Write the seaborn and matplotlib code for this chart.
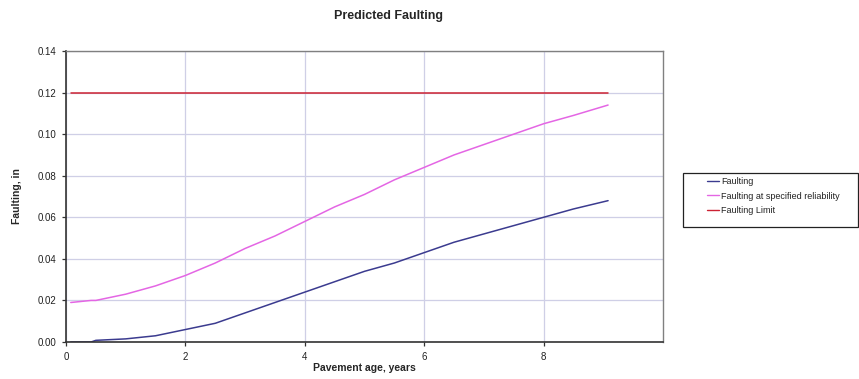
import matplotlib
matplotlib.use("Agg")
import matplotlib.pyplot as plt
from matplotlib.patches import Rectangle
import seaborn as sns
import pandas as pd

# Data
age_years = [0.08, 0.42, 0.5, 1.0, 1.5, 2.0, 2.5, 3.0, 3.5, 4.0, 4.5, 5.0,
             5.5, 6.0, 6.5, 7.0, 7.5, 8.0, 8.5, 9.08]
faulting = [0.000, 0.000, 0.0008, 0.0015, 0.003, 0.006, 0.009, 0.014, 0.019,
            0.024, 0.029, 0.034, 0.038, 0.043, 0.048, 0.052, 0.056, 0.060,
            0.064, 0.068]
faulting_reliability = [0.019, 0.020, 0.020, 0.023, 0.027, 0.032, 0.038,
                        0.045, 0.051, 0.058, 0.065, 0.071, 0.078, 0.084,
                        0.090, 0.095, 0.100, 0.105, 0.109, 0.114]
faulting_limit = [0.12] * len(age_years)

series_names = ["Faulting", "Faulting at specified reliability", "Faulting Limit"]
series_colors = ["#3b3b8f", "#e466e4", "#cc2233"]

rows = []
for name, vals in zip(series_names, [faulting, faulting_reliability, faulting_limit]):
    for x, y in zip(age_years, vals):
        rows.append({"age": x, "value": y, "series": name})
df = pd.DataFrame(rows)

sns.set_theme(style="white")
plt.rcParams["font.family"] = ["Liberation Sans", "DejaVu Sans"]

W, H = 859, 379
fig = plt.figure(figsize=(W / 100, H / 100), dpi=100)
ax = fig.add_axes([66 / W, 37 / H, 597 / W, 291 / H])

sns.lineplot(data=df, x="age", y="value", hue="series", hue_order=series_names,
             palette=series_colors, ax=ax, linewidth=1.1, legend=True)

ax.set_xlim(0, 10)
ax.set_ylim(0, 0.14)
ax.set_xticks([0, 2, 4, 6, 8])
ax.set_xticklabels(["0", "2", "4", "6", "8"])
yt = [0.0, 0.02, 0.04, 0.06, 0.08, 0.10, 0.12, 0.14]
ax.set_yticks(yt)
ax.set_yticklabels([f"{v:.2f}" for v in yt])
ax.grid(True, color="#cfcfe6", linewidth=0.9)
ax.set_axisbelow(True)

for side in ["top", "right"]:
    ax.spines[side].set_color("#808080")
    ax.spines[side].set_linewidth(1.0)
for side in ["left", "bottom"]:
    ax.spines[side].set_color("#333333")
    ax.spines[side].set_linewidth(1.2)

ax.tick_params(axis="both", which="both", direction="out", length=3, width=0.9,
               color="#333333", labelsize=7, labelcolor="#222222", pad=4)
ax.tick_params(axis="x", bottom=True)
ax.tick_params(axis="y", left=True)

ax.set_xlabel("Pavement age, years", fontsize=7.5, fontweight="bold")
ax.set_ylabel("Faulting, in", fontsize=7.5, fontweight="bold")
ax.xaxis.set_label_coords(0.5, (342 - 368) / 291)
ax.yaxis.set_label_coords((17 - 66) / 597, 0.5)
ax.xaxis.label.set_va("center")
ax.yaxis.label.set_va("center")

fig.suptitle("Predicted Faulting", x=388 / W, y=1 - 16 / H, fontsize=9,
             fontweight="bold", va="center")

# legend frame
fig.patches.append(Rectangle((683 / W, 1 - 227 / H), 175 / W, 54 / H,
                             transform=fig.transFigure, fill=False,
                             edgecolor="#222222", linewidth=0.9))

handles, labels = ax.get_legend_handles_labels()
leg = ax.legend(handles, labels, loc="upper left",
                bbox_to_anchor=(707 / W, 1 - 177 / H),
                bbox_transform=fig.transFigure, fontsize=6.5, frameon=False,
                handlelength=1.3, handletextpad=0.3, borderpad=0.0,
                labelspacing=0.62, borderaxespad=0)
for line in leg.get_lines():
    line.set_linewidth(1.0)
for t in leg.get_texts():
    t.set_color("#222222")

fig.savefig("out.png", dpi=100)
